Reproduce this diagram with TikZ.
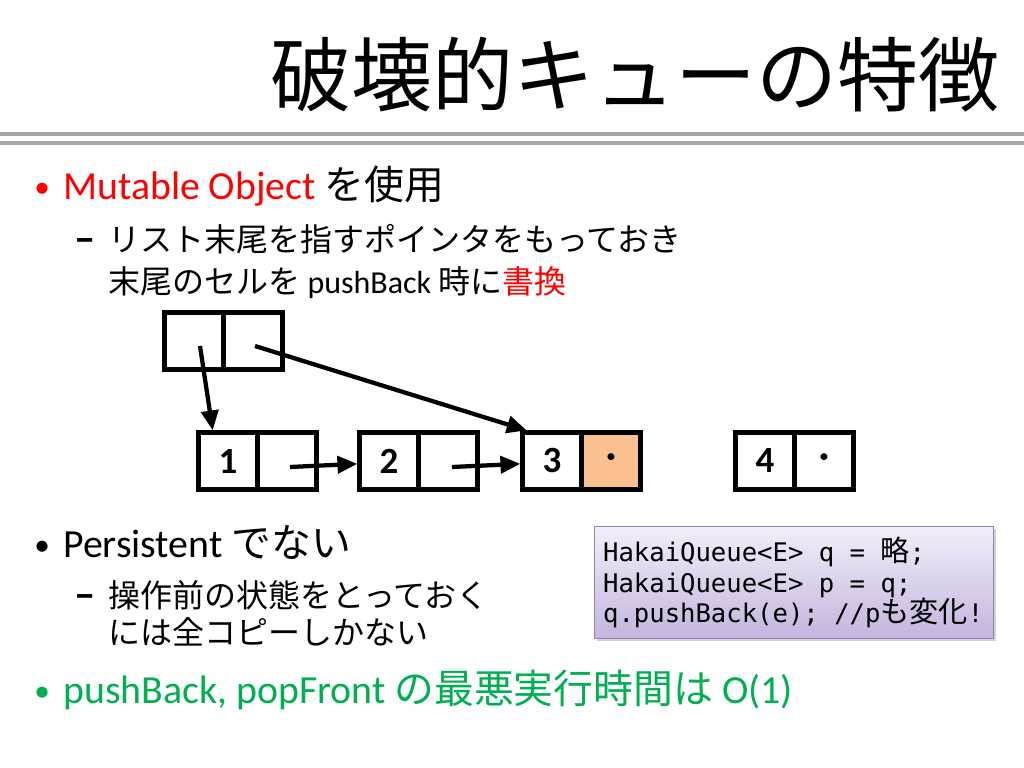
\documentclass[tikz,border=0pt]{standalone}
\usepackage{fontspec}
\setmainfont{Carlito}
\setmonofont{DejaVu Sans Mono}
\newfontfamily\jp{Noto Sans CJK JP}
\usepackage{tikz}
\usetikzlibrary{arrows.meta, positioning, shadows}
\definecolor{slidered}{RGB}{255,0,0}
\definecolor{slidegreen}{RGB}{0,176,80}
\definecolor{cellfill}{RGB}{250,192,143}
\definecolor{rulegray}{RGB}{166,166,166}
\definecolor{codetop}{RGB}{243,238,249}
\definecolor{codebottom}{RGB}{196,180,222}
\definecolor{codeline}{RGB}{150,130,175}
\newcommand\msp{\hspace*{0.602em}}
\newcommand\cj[1]{{\jp\fontsize{20.5}{21.5}\selectfont #1}}
\tikzset{>={Triangle[length=14pt,width=12pt]},
  half/.style={draw, line width=3.5pt, minimum width=41.5pt, minimum height=40pt, inner sep=0pt, outer sep=0pt, font=\fontsize{26}{30}\selectfont\bfseries},
  ptr/.style={->, line width=3pt},
  lvone/.style={anchor=base west, inner sep=0pt, font=\fontsize{28}{34}\selectfont},
  lvtwo/.style={anchor=base west, inner sep=0pt, font=\fontsize{22.5}{27}\selectfont},
  bul/.style={anchor=base west, inner sep=0pt, font=\fontsize{22}{26}\selectfont},
  dashmark/.style={anchor=base west, inner sep=0pt, font=\fontsize{30}{32}\selectfont\bfseries}}

\begin{document}
\begin{tikzpicture}[x=0.703125pt, y=-0.703125pt]
\path[use as bounding box, fill=white] (0,0) rectangle (1024,768);

\node[anchor=base east, inner sep=0pt, font=\fontsize{57}{60}\selectfont\jp] (title) at (1000,106) {破壊的キューの特徴};
\draw[rulegray, line width=2.8pt] (0,134) -- (1024,134);
\draw[rulegray, line width=2.8pt] (0,143) -- (1024,143);

\node[bul, slidered] (b1) at (34,198) {\textbullet};
\node[lvone] (t1) at (63,200) {\textcolor{slidered}{Mutable Object} {\jp を使用}};
\node[dashmark] (d1) at (74,253) {–};
\node[lvtwo] (t2) at (108,252) {\jp リスト末尾を指すポインタをもっておき};
\node[lvtwo] (t3) at (108,294) {{\jp 末尾のセルを} pushBack {\jp 時に\textcolor{slidered}{書換}}};

\node[half] (top1) at (194,341) {};
\node[half, right=0pt of top1] (top2) {};

\node[half] (c1) at (228,461) {1};
\node[half, right=0pt of c1] (c1p) {};
\node[half] (c2) at (389,461) {2};
\node[half, right=0pt of c2] (c2p) {};
\node[half] (c3) at (552,461) {3};
\node[half, fill=cellfill, right=0pt of c3] (c3p) {·};
\node[half] (c4) at (765,461) {4};
\node[half, right=0pt of c4] (c4p) {·};

\coordinate (s1) at (200,346);
\coordinate (s2) at (255,346);
\coordinate (s3) at (290,467);
\coordinate (s4) at (452,467);
\draw[ptr] (s1) -- ([xshift=10pt,yshift=1.5pt]c1.north west);
\draw[ptr] (s2) -- ([xshift=3pt,yshift=1.5pt]c3.north west);
\draw[ptr] (s3) -- ([xshift=-1.5pt,yshift=-2pt]c2.west);
\draw[ptr] (s4) -- ([xshift=-1.5pt,yshift=-2pt]c3.west);

\node[draw=codeline, line width=0.8pt, top color=codetop, bottom color=codebottom, drop shadow={opacity=0.35, shadow xshift=1.5pt, shadow yshift=-1.5pt}, anchor=north west, minimum width=280.5pt, minimum height=78.75pt, text width=268.5pt, inner xsep=6pt, align=left, font=\fontsize{18}{21.5}\selectfont\ttfamily] (code) at (594,526) {HakaiQueue<E>\msp q\msp =\msp \cj{略};\\HakaiQueue<E>\msp p\msp =\msp q;\\q.pushBack(e);\msp //p\cj{も変化}!};

\node[bul] (b2) at (34,555) {\textbullet};
\node[lvone] (t4) at (63,557) {Persistent {\jp でない}};
\node[dashmark] (d2) at (74,608) {–};
\node[lvtwo] (t5) at (108,607) {\jp 操作前の状態をとっておく};
\node[lvtwo] (t6) at (108,644) {\jp には全コピーしかない};

\node[bul, slidegreen] (b3) at (34,701) {\textbullet};
\node[lvone, slidegreen] (t7) at (63,703) {pushBack, popFront {\jp の最悪実行時間は} O(1)};
\end{tikzpicture}
\end{document}
